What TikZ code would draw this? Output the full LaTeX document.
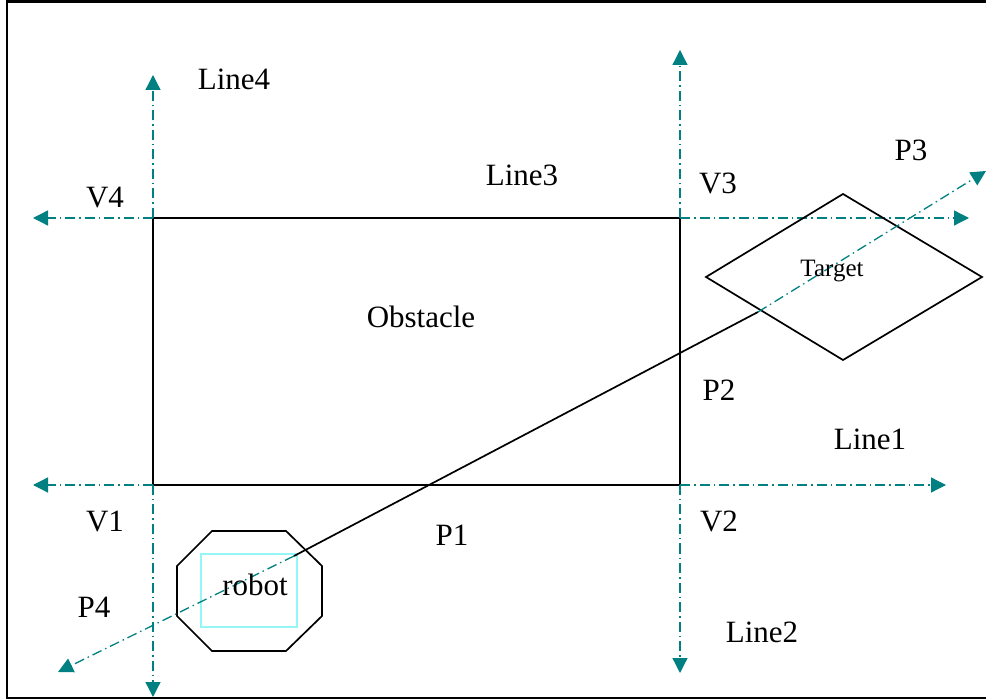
\documentclass[tikz,border=0pt]{standalone}
\usepackage{fontspec}
\setmainfont{Liberation Serif}
\usetikzlibrary{arrows.meta}

\definecolor{guide}{RGB}{0,128,128}
\definecolor{robotbox}{RGB}{150,245,245}

\tikzset{
  guideline/.style={guide, line width=1.3pt,
    dash pattern=on 10pt off 4pt on 1.5pt off 4pt,
    -{Triangle[length=15pt,width=15pt]}},
  edge/.style={line width=1.7pt},
  lbl/.style={anchor=base, inner sep=0pt, font=\fontsize{31}{36}\selectfont},
  small lbl/.style={lbl, font=\fontsize{25}{30}\selectfont}
}

\begin{document}
\begin{tikzpicture}[x=1pt, y=-1pt]
    \useasboundingbox (0,0) rectangle (986,700);
    \clip (0,0) rectangle (986,700);

    % Frame
    \draw[line width=2.2pt] (7,1.5) rectangle (1010,698);

    % Obstacle corners
    \coordinate (v1) at (153,485);
    \coordinate (v2) at (680,485);
    \coordinate (v3) at (680,218);
    \coordinate (v4) at (153,218);
    \draw[edge] (v1) rectangle (v3);

    % Guide line ends
    \coordinate (up4) at (153,75);
    \coordinate (left4) at (33,218);
    \coordinate (left1) at (33,485);
    \coordinate (down1) at (153,697);
    \coordinate (up3) at (680,50);
    \coordinate (right3) at (969,218);
    \coordinate (right2) at (946,485);
    \coordinate (down2) at (680,673);
    \draw[guideline] (v4) -- (up4);
    \draw[guideline] (v4) -- (left4);
    \draw[guideline] (v1) -- (left1);
    \draw[guideline] (v1) -- (down1);
    \draw[guideline] (v3) -- (up3);
    \draw[guideline] (v3) -- (right3);
    \draw[guideline] (v2) -- (right2);
    \draw[guideline] (v2) -- (down2);

    % Robot
    \node[draw=robotbox, line width=1.2pt, minimum width=96pt, minimum height=73pt] (robot) at (249,590.5) {};
    \draw[edge] (212,531) -- (286,531) -- (322,566) -- (322,616) -- (286,651)
        -- (212,651) -- (177,616) -- (177,566) -- cycle;

    % Target
    \draw[edge] (706,277) -- (843,194) -- (982,277) -- (843,360) -- cycle;

    % Path from robot to target
    \coordinate (start) at (294,556);
    \coordinate (goal) at (758,312);
    \coordinate (p4end) at (58,672);
    \coordinate (p3end) at (986,171);
    \draw[edge] (start) -- (goal);
    \draw[guideline] (start) -- (p4end);
    \draw[guideline] (goal) -- (p3end);

    % Labels
    \node[lbl] (line4) at (234,90) {Line4};
    \node[lbl] (line3) at (522,186) {Line3};
    \node[lbl] (line1) at (870,450) {Line1};
    \node[lbl] (line2) at (762,642) {Line2};
    \node[lbl] (v4lbl) at (105,208) {V4};
    \node[lbl] (v3lbl) at (718,194) {V3};
    \node[lbl] (v1lbl) at (105,532) {V1};
    \node[lbl] (v2lbl) at (719,532) {V2};
    \node[lbl] (p1) at (452,545) {P1};
    \node[lbl] (p2) at (719,401) {P2};
    \node[lbl] (p3) at (911,161) {P3};
    \node[lbl] (p4) at (94,617) {P4};
    \node[lbl] (obstacle) at (421,328) {Obstacle};
    \node[small lbl] (target) at (832,277) {Target};
    \node[lbl] (robotlbl) at (255,595) {robot};
\end{tikzpicture}
\end{document}
